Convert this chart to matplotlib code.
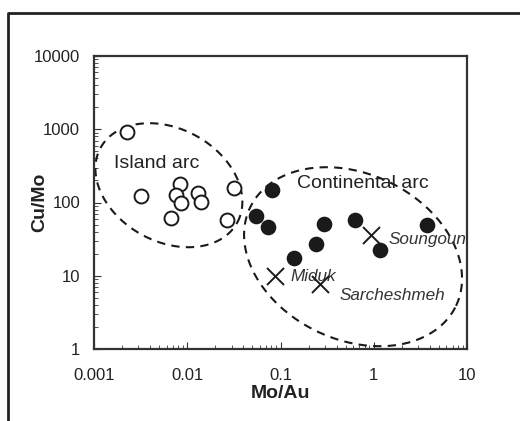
import numpy as np
import matplotlib
matplotlib.use("Agg")
import matplotlib.pyplot as plt
from matplotlib.lines import Line2D

plt.rcParams['font.family'] = ['Liberation Sans', 'DejaVu Sans']

# island arc deposits (open circles)
island_x = [0.00225, 0.00316, 0.00833, 0.00754, 0.00867, 0.00663, 0.0130, 0.0139, 0.0315, 0.0270]
island_y = [908, 124, 179, 127, 97.5, 60.8, 133, 103, 159, 57.7]

# continental arc deposits (filled circles)
cont_x = [0.081, 0.0542, 0.0741, 0.292, 0.242, 0.138, 0.632, 1.18, 3.70]
cont_y = [147, 66.1, 46.8, 51.4, 27.1, 17.3, 57.7, 22.5, 48.8]

# named Iranian deposits (crosses)
named = ['Miduk', 'Sarcheshmeh', 'Soungoun']
named_x = [0.0873, 0.267, 0.923]
named_y = [9.8, 7.6, 35.6]
named_lx = [0.128, 0.428, 1.45]
named_ly = [9.8, 5.35, 31.7]

# field outlines: centre (log10 x, log10 y), semi-axes [px], tilt [deg]
fields = {
    'island': (-2.197, 2.236, 77.9, 56.4, -28.7),
    'continental': (-0.222, 1.26, 114.1, 82.9, -25.5),
}

W, H, DPI = 520, 421, 100
fig = plt.figure(figsize=(W / DPI, H / DPI), dpi=DPI)
ax = fig.add_axes([94 / W, 1 - 349 / H, (467 - 94) / W, (349 - 56) / H])

ax.set_xscale('log'); ax.set_yscale('log')
ax.set_xlim(0.001, 10); ax.set_ylim(1, 10000)

ink = '#1a1a1a'
ax.scatter(island_x, island_y, s=100, facecolors='white', edgecolors=ink, linewidths=1.4, zorder=3)
ax.scatter(cont_x, cont_y, s=105, c=ink, edgecolors=ink, zorder=3)
ax.scatter(named_x, named_y, s=150, marker='x', c=ink, linewidths=1.4, zorder=4)
for n, lx, ly in zip(named, named_lx, named_ly):
    ax.text(lx, ly, n, fontsize=12.3, style='italic', color='#333333', va='center', ha='left')

ax.text(0.00465, 343, 'Island arc', fontsize=14, color='#222222', ha='center', va='center')
ax.text(0.764, 183, 'Continental arc', fontsize=14, color='#222222', ha='center', va='center')

# dashed ellipses, drawn in pixel space then mapped to log axes
px_dec_x = (467 - 94) / 4.0
px_dec_y = (349 - 56) / 4.0
t = np.linspace(0, 2 * np.pi, 400)
for cx, cy, a, b, ang in fields.values():
    phi = np.deg2rad(ang)
    X = a * np.cos(t) * np.cos(phi) - b * np.sin(t) * np.sin(phi)
    Y = a * np.cos(t) * np.sin(phi) + b * np.sin(t) * np.cos(phi)
    ax.plot(10 ** (cx + X / px_dec_x), 10 ** (cy + Y / px_dec_y), ls=(0, (4, 3)),
            color=ink, lw=1.5, zorder=2)

for s in ax.spines.values():
    s.set_linewidth(1.6)
    s.set_color('#333333')
ax.tick_params(which='both', direction='in', top=False, right=False, colors='#333333')
ax.tick_params(which='major', length=5, labelsize=12, labelcolor='#222222')
ax.tick_params(axis='x', which='major', pad=14)
ax.tick_params(axis='y', which='major', pad=10)
ax.tick_params(which='minor', length=3)
ax.set_xticks([0.001, 0.01, 0.1, 1, 10])
ax.set_xticklabels(['0.001', '0.01', '0.1', '1', '10'])
ax.set_yticks([1, 10, 100, 1000, 10000])
ax.set_yticklabels(['1', '10', '100', '1000', '10000'])

ax.set_xlabel('Mo/Au', fontsize=14, fontweight='bold', color='#222222', va='center')
ax.xaxis.set_label_coords(0.5, -0.152)
ax.set_ylabel('Cu/Mo', fontsize=14, fontweight='bold', color='#222222', va='center')
ax.yaxis.set_label_coords(-0.146, 0.5)

# outer frame (open at right and bottom)
fig.add_artist(Line2D([8 / W, 8 / W, 1.0], [0.0, 1 - 13 / H, 1 - 13 / H],
                      transform=fig.transFigure, color='#222222', lw=2))

fig.savefig('out.png', dpi=DPI)
